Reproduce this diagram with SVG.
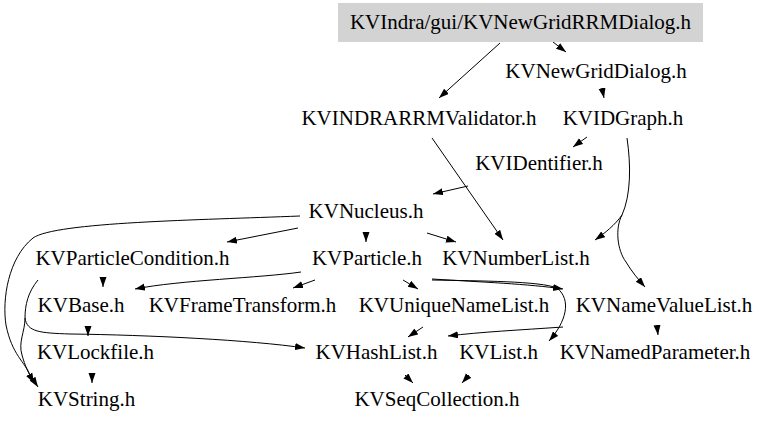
<svg xmlns="http://www.w3.org/2000/svg" width="768" height="427" viewBox="0 0 768 427">
<defs>
<marker id="ah" markerUnits="userSpaceOnUse" markerWidth="11" markerHeight="8" refX="10" refY="3.5" orient="auto">
<path d="M0,0 L10,3.5 L0,7 z" fill="#000"/>
</marker>
<style>
text{font-family:"Liberation Serif","Times New Roman",serif;font-size:21px;fill:#000;text-anchor:middle}
.e path{fill:none;stroke:#000;stroke-width:1;marker-end:url(#ah)}
</style>
</defs>
<rect width="768" height="427" fill="#fff"/>
<g class="e" id="edges">
<path d="M553,42 L566,52"/>
<path d="M500,43 L439,98"/>
<path d="M602,88 L604,98"/>
<path d="M587,137 L573,147"/>
<path d="M627,138 C631,165 631,195 622,215 C615,225 605,233 595,240"/>
<path d="M622,215 C615,228 617,250 626,262 C632,272 638,279 645,287"/>
<path d="M432,138 L503,240"/>
<path d="M468,186 L433,194"/>
<path d="M298,228 L227,242"/>
<path d="M366,232 L366,242"/>
<path d="M427,233 L456,242"/>
<path d="M300,216 C200,220 55,222 33,238 C8,258 2,300 6,325 C12,355 25,362 30,375 L38,387"/>
<path d="M38,280 C28,292 25,305 25,318 C25,332 18,342 22,355 C25,366 28,372 34,383"/>
<path d="M25,318 C27,332 40,333 70,334 C150,335 250,340 305,348"/>
<path d="M103,281 L103,287"/>
<path d="M301,272 C260,278 180,280 135,289"/>
<path d="M315,280 L293,288"/>
<path d="M403,280 L418,289"/>
<path d="M432,279 C480,282 530,284 563,289"/>
<path d="M432,280 C480,281 540,281 557,288 C572,300 566,322 549,341"/>
<path d="M563,327 C520,330 480,332 448,336"/>
<path d="M423,327 L408,337"/>
<path d="M657,325 L658,335"/>
<path d="M88,326 L88,336"/>
<path d="M92,373 L92,383"/>
<path d="M405,375 L413,383"/>
<path d="M469,375 L462,383"/>
</g>
<g id="n0"><rect x="338" y="3" width="365" height="39" fill="#d3d3d3"/><text x="520.5" y="29">KVIndra/gui/KVNewGridRRMDialog.h</text></g>
<g id="n1"><text x="596" y="78">KVNewGridDialog.h</text></g>
<g id="n2"><text x="419" y="125">KVINDRARRMValidator.h</text></g>
<g id="n3"><text x="623" y="125">KVIDGraph.h</text></g>
<g id="n4"><text x="539" y="170">KVIDentifier.h</text></g>
<g id="n5"><text x="366" y="218">KVNucleus.h</text></g>
<g id="n6"><text x="132.5" y="265">KVParticleCondition.h</text></g>
<g id="n7"><text x="367" y="265">KVParticle.h</text></g>
<g id="n8"><text x="516" y="265">KVNumberList.h</text></g>
<g id="n9"><text x="81" y="312">KVBase.h</text></g>
<g id="n10"><text x="242.5" y="312">KVFrameTransform.h</text></g>
<g id="n11"><text x="454" y="312">KVUniqueNameList.h</text></g>
<g id="n12"><text x="664" y="312">KVNameValueList.h</text></g>
<g id="n13"><text x="95.5" y="359">KVLockfile.h</text></g>
<g id="n14"><text x="376.5" y="359">KVHashList.h</text></g>
<g id="n15"><text x="498.5" y="359">KVList.h</text></g>
<g id="n16"><text x="655" y="359">KVNamedParameter.h</text></g>
<g id="n17"><text x="86.5" y="406">KVString.h</text></g>
<g id="n18"><text x="437" y="406">KVSeqCollection.h</text></g>
</svg>
